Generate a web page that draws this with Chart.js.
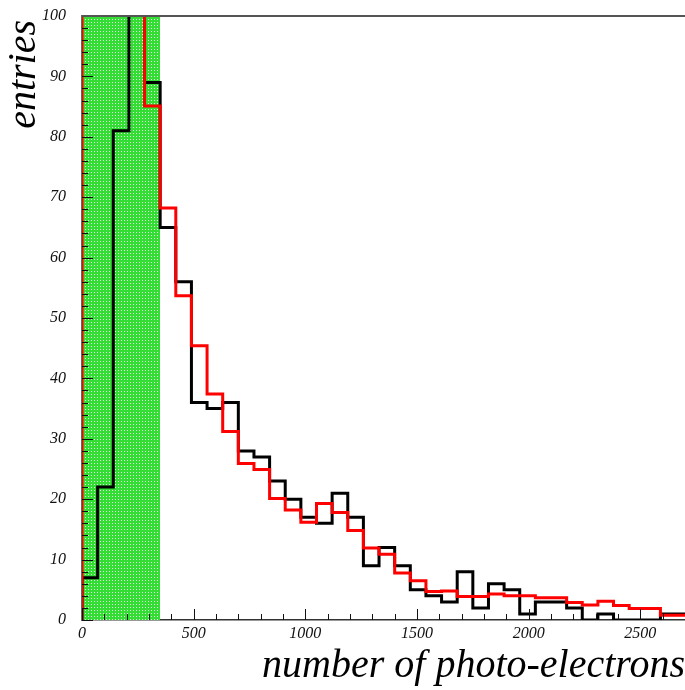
<!DOCTYPE html>
<html><head><meta charset="utf-8">
<script src="https://cdn.jsdelivr.net/npm/chart.js@4/dist/chart.umd.min.js"></script>
<style>html,body{margin:0;padding:0;background:#fff;}#wrap{width:685px;height:690px;position:relative;}</style>
</head><body><div id="wrap"><canvas id="c"></canvas></div>
<script>
// ---- data ----
const binLowEdges = [0,70,140,210,280,350,420,490,560,630,700,770,840,910,980,1050,1120,1190,1260,1330,1400,1470,1540,1610,1680,1750,1820,1890,1960,2030,2100,2170,2240,2310,2380,2450,2520,2590,2660];
const binWidth = 70;
const dataCounts = [7,22,81,120,89,65,56,36,35,36,28,27,23,20,17,16,21,17,9,12,9,5,4,3,8,2,6,5,1,3,3,2,0,1,0,0,0,1,1];
const simCounts = [140,170,160,130,85.1,68.2,53.7,45.4,37.4,31.2,25.9,24.9,20.1,18.2,16.2,19.3,17.8,14.8,11.9,10.9,7.8,6.5,4.7,4.8,3.9,3.9,4.3,4.0,4.0,3.7,3.7,2.9,2.5,3.1,2.4,1.9,1.9,0.8,0.8];
const thresholdBand = [0, 350];
const xRange = [0, 2700];
const yRange = [0, 100];
const xTitle = 'number of photo-electrons';
const yTitle = 'entries';

function histPoints(counts){
  const pts = [{x: binLowEdges[0], y: 0}];
  counts.forEach((c, i) => pts.push({x: binLowEdges[i], y: c}));
  const n = counts.length - 1;
  pts.push({x: binLowEdges[n] + binWidth, y: counts[n]});
  return pts;
}

// hatch-like green pattern
const tile = document.createElement('canvas');
tile.width = 3; tile.height = 3;
const tctx = tile.getContext('2d');
tctx.fillStyle = '#33dd33'; tctx.fillRect(0,0,3,3);
tctx.fillStyle = '#e0ffe0'; tctx.fillRect(1,1,1,1);
const greenPattern = tctx.createPattern(tile, 'repeat');

const serif = '"Liberation Serif", "DejaVu Serif", serif';

const framePlugin = {
  id: 'frame',
  afterDatasetsDraw(chart){
    const {ctx, chartArea: a, scales: {x, y}} = chart;
    ctx.save();
    ctx.strokeStyle = '#111';
    ctx.lineWidth = 1;
    x.ticks.forEach(t => {
      const px = Math.round(x.getPixelForValue(t.value)) + 0.5;
      const len = (t.value % 500 === 0) ? 11 : 6;
      ctx.beginPath(); ctx.moveTo(px, a.bottom); ctx.lineTo(px, a.bottom - len); ctx.stroke();
    });
    y.ticks.forEach(t => {
      const py = Math.round(y.getPixelForValue(t.value)) + 0.5;
      const len = (t.value % 10 === 0) ? 11 : 6;
      ctx.beginPath(); ctx.moveTo(a.left, py); ctx.lineTo(a.left + len, py); ctx.stroke();
    });
    ctx.strokeStyle = '#555';
    ctx.lineWidth = 2;
    ctx.beginPath(); ctx.moveTo(a.left, a.top); ctx.lineTo(a.right, a.top); ctx.stroke();
    ctx.restore();
  },
  afterDraw(chart){
    const {ctx, chartArea: a} = chart;
    ctx.save();
    ctx.fillStyle = '#000';
    ctx.font = 'italic 40px ' + serif;
    ctx.textAlign = 'right';
    ctx.textBaseline = 'alphabetic';
    ctx.fillText(xTitle, a.right, 677);
    ctx.translate(35, a.top + 4);
    ctx.rotate(-Math.PI / 2);
    ctx.fillText(yTitle, 0, 0);
    ctx.restore();
  }
};

new Chart(document.getElementById('c'), {
  type: 'line',
  data: {
    datasets: [
      {
        label: 'data',
        data: histPoints(dataCounts),
        stepped: 'before',
        borderColor: '#000',
        borderWidth: 3,
        borderJoinStyle: 'miter',
        pointRadius: 0,
        pointHoverRadius: 0,
        fill: false,
        order: 1
      },
      {
        label: 'simulation',
        data: histPoints(simCounts),
        stepped: 'before',
        borderColor: '#ff0000',
        borderWidth: 3,
        borderJoinStyle: 'miter',
        pointRadius: 0,
        pointHoverRadius: 0,
        fill: false,
        order: 0
      },
      {
        label: 'threshold',
        data: [{x: thresholdBand[0], y: yRange[0]}, {x: thresholdBand[1], y: yRange[0]}],
        borderWidth: 0,
        borderColor: 'rgba(0,0,0,0)',
        backgroundColor: greenPattern,
        pointRadius: 0,
        pointHoverRadius: 0,
        fill: 'end',
        order: 5
      }
    ]
  },
  options: {
    responsive: true,
    maintainAspectRatio: false,
    animation: false,
    devicePixelRatio: 1,
    layout: {autoPadding: false, padding: {top: 16, right: 0, left: 0, bottom: 0}},
    plugins: {legend: {display: false}, tooltip: {enabled: false}},
    scales: {
      x: {
        type: 'linear',
        min: xRange[0], max: xRange[1],
        grid: {display: false, drawTicks: false},
        border: {display: true, color: '#333', width: 1.5},
        afterFit: s => { s.height = 70; s.paddingLeft = 0; s.paddingRight = 0; },
        ticks: {
          stepSize: 100, maxTicksLimit: 200, autoSkip: false, maxRotation: 0, minRotation: 0,
          padding: 4, color: '#111',
          font: {family: serif, style: 'italic', size: 16},
          callback: v => (v % 500 === 0 ? String(v) : '')
        }
      },
      y: {
        type: 'linear',
        min: yRange[0], max: yRange[1],
        grid: {display: false, drawTicks: false},
        border: {display: true, color: '#666', width: 1.5},
        afterFit: s => { s.width = 82; s.paddingTop = 0; s.paddingBottom = 0; },
        ticks: {
          stepSize: 2, maxTicksLimit: 200, autoSkip: false,
          padding: 16, color: '#111',
          font: {family: serif, style: 'italic', size: 16},
          callback: v => (v % 10 === 0 ? String(v) : '')
        }
      }
    }
  },
  plugins: [framePlugin]
});
</script>
</body></html>
